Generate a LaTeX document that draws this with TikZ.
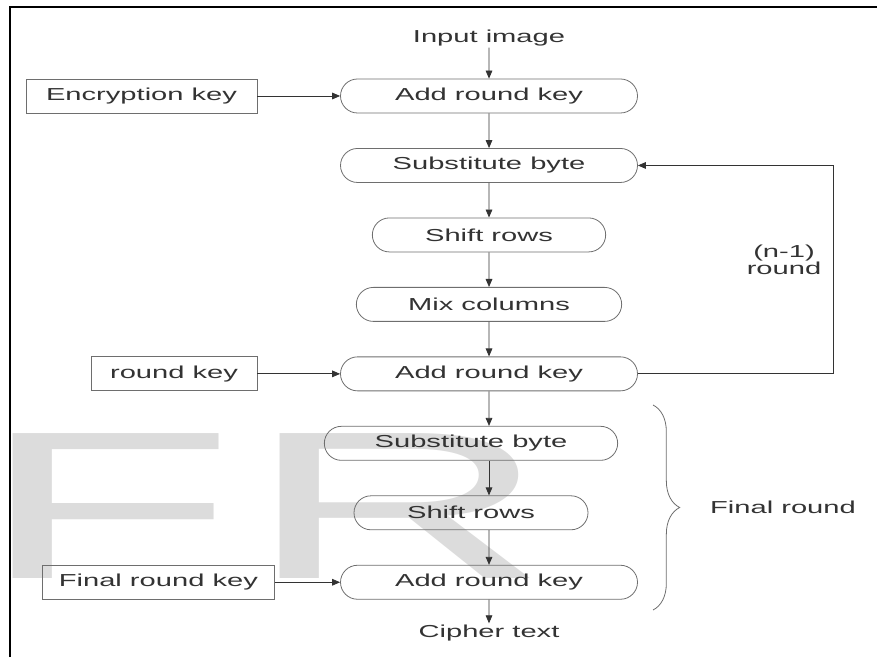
\documentclass[tikz,border=0pt]{standalone}
\usepackage{fontspec}
\setmainfont{Liberation Sans}[FakeStretch=1.68]
\newfontfamily\stampfont{Liberation Sans}[FakeStretch=2.0]
\usetikzlibrary{arrows.meta,positioning,shapes.misc,decorations.pathreplacing}
\definecolor{edgegray}{HTML}{6E6E6E}
\definecolor{inkgray}{HTML}{333333}
\definecolor{markgray}{HTML}{DCDCDC}

\begin{document}
\begin{tikzpicture}[
  x=0.75pt, y=0.75pt,
  font=\fontsize{13}{12}\selectfont,
  node distance=26pt and 62pt,
  stage/.style={rounded rectangle, draw=edgegray, line width=0.6pt, text=inkgray,
                minimum height=25.5pt, inner sep=0pt},
  keybox/.style={rectangle, draw=edgegray, line width=0.6pt, text=inkgray,
                 minimum height=25.5pt, inner sep=0pt},
  plain/.style={text=inkgray, inner sep=1pt, align=center},
  arrow/.style={-{Triangle[length=6pt,width=5pt]}, draw=inkgray, line width=0.6pt},
  watermark/.style={text=markgray, inner sep=0pt, anchor=base west,
                    font=\stampfont\fontsize{158}{158}\selectfont},
]
  \useasboundingbox (0,0) rectangle (877,657);

  % faint stamp behind the chart
  \node[watermark] (markF) at (-22,79) {F};
  \node[watermark] (markR) at (245,79) {R};

  % page frame
  \draw[line width=1.6pt] (10,0) -- (10,650) -- (877,650);

  \node[plain] (input) at (489,619) {Input image};

  % rounds 1 .. n-1
  \node[stage, minimum width=222.75pt] (ark1) at (489,561) {Add round key};
  \node[stage, minimum width=222.75pt, below=of ark1] (sub1) {Substitute byte};
  \node[stage, minimum width=175pt, below=of sub1] (shift1) {Shift rows};
  \node[stage, minimum width=199pt, below=of shift1] (mix1) {Mix columns};
  \node[stage, minimum width=222.75pt, below=of mix1] (ark2) {Add round key};

  % final round
  \node[stage, minimum width=220pt, below=of ark2, xshift=-13.5pt] (sub2) {Substitute byte};
  \node[stage, minimum width=175.5pt, below=of sub2] (shift2) {Shift rows};
  \node[stage, minimum width=222.75pt, below=of shift2, xshift=13.5pt] (ark3) {Add round key};

  \node[plain] (cipher) at (489,24) {Cipher text};

  % key inputs
  \node[keybox, minimum width=173.25pt, left=of ark1] (enckey) {Encryption key};
  \node[keybox, minimum width=124.5pt, left=of ark2] (roundkey) {round key};
  \node[keybox, minimum width=174pt, left=49pt of ark3] (finalkey) {Final round key};

  \draw[arrow] (input) -- (ark1);
  \foreach \a/\b in {ark1/sub1, sub1/shift1, shift1/mix1, mix1/ark2}
    \draw[arrow] (\a) -- (\b);
  \draw[arrow] (ark2) -- (ark2 |- sub2.north);
  \draw[arrow] (ark2 |- sub2.south) -- (ark2 |- shift2.north);
  \draw[arrow] (ark2 |- shift2.south) -- (ark3);
  \draw[arrow] (ark3) -- (cipher);

  \draw[arrow] (enckey) -- (ark1);
  \draw[arrow] (roundkey) -- (ark2);
  \draw[arrow] (finalkey) -- (ark3);

  % loop back for the middle rounds
  \draw[arrow] (ark2.east) -- ++(195.5,0) |- (sub1.east);
  \node[plain] (rounds) at (784,397) {(n-1)\\round};

  % brace over the final round
  \coordinate (braceTop) at (653,252);
  \coordinate (braceBot) at (653,47);
  \draw[edgegray, line width=0.6pt, decorate, decoration={brace, amplitude=20pt}]
    (braceTop) -- (braceBot);
  \node[plain] (finalround) at (783,150) {Final round};
\end{tikzpicture}
\end{document}
